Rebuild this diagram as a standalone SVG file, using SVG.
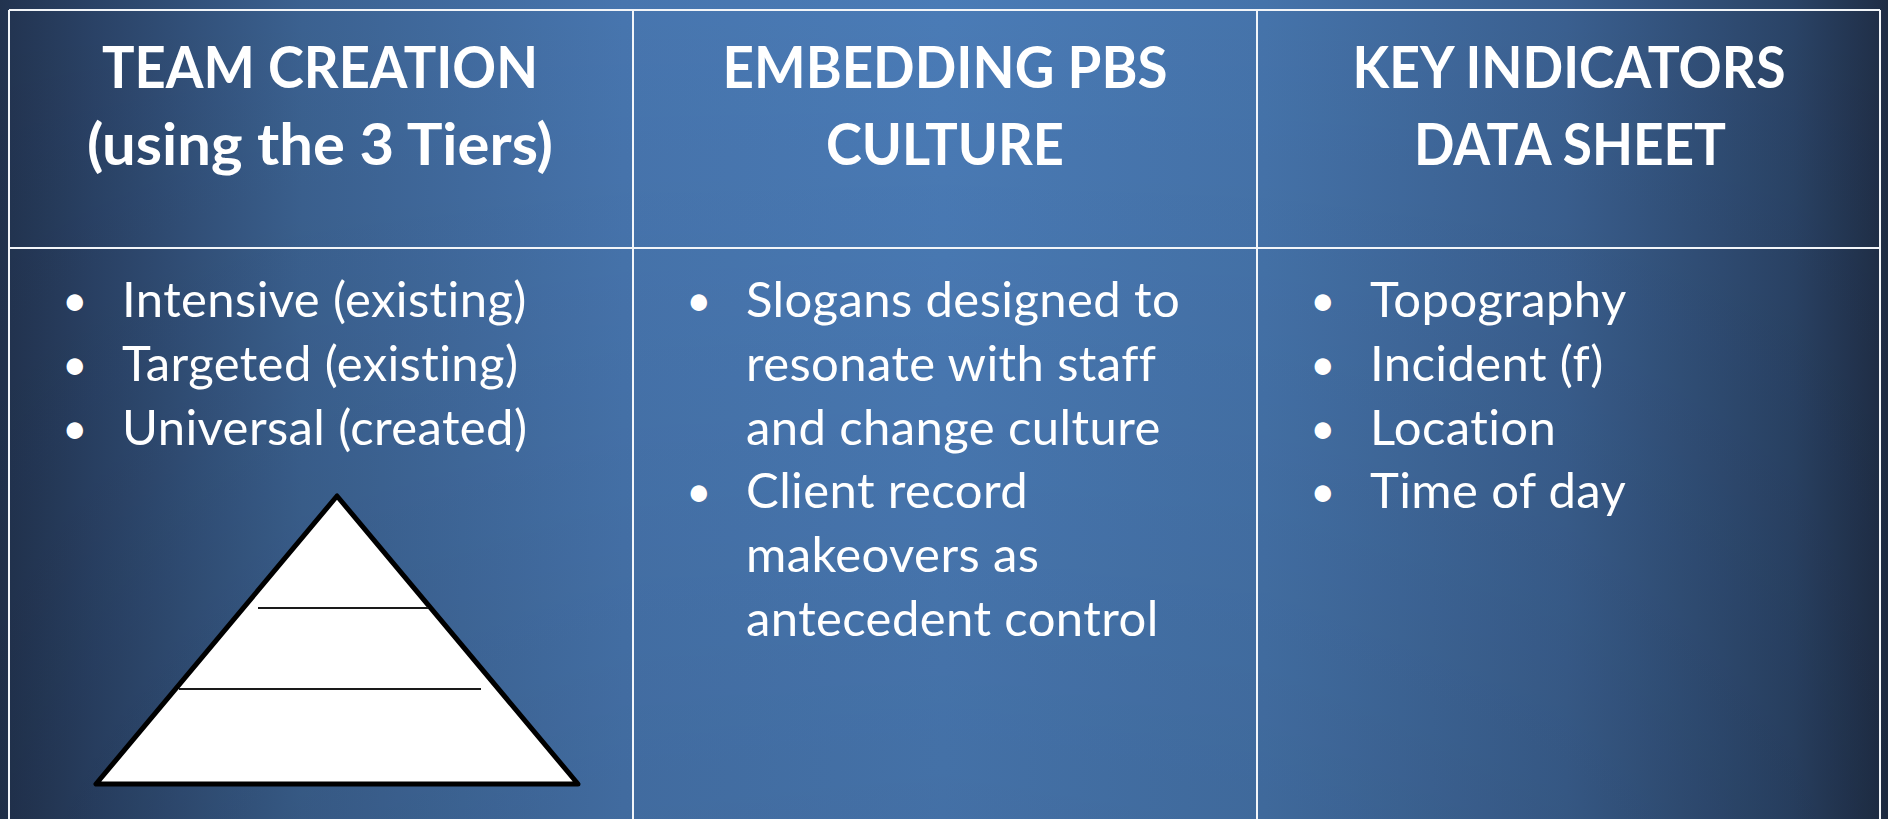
<svg xmlns="http://www.w3.org/2000/svg" width="1888" height="819" viewBox="0 0 1888 819">
  <defs>
    <linearGradient id="bgH" x1="0" y1="0" x2="1888" y2="0" gradientUnits="userSpaceOnUse">
      <stop offset="0" stop-color="#22334f"/>
      <stop offset="0.05" stop-color="#2a4266"/>
      <stop offset="0.16" stop-color="#3b6190"/>
      <stop offset="0.33" stop-color="#4775ae"/>
      <stop offset="0.5" stop-color="#4a7bb6"/>
      <stop offset="0.67" stop-color="#4573aa"/>
      <stop offset="0.83" stop-color="#3a5f8f"/>
      <stop offset="0.95" stop-color="#2a4366"/>
      <stop offset="1" stop-color="#1f2d45"/>
    </linearGradient>
    <linearGradient id="bgV" x1="0" y1="0" x2="0" y2="819" gradientUnits="userSpaceOnUse">
      <stop offset="0" stop-color="#000" stop-opacity="0"/>
      <stop offset="1" stop-color="#000" stop-opacity="0.09"/>
    </linearGradient>
    <style>
      .grid { stroke: #f2f5f9; stroke-width: 2; fill: none; }
      .hdr { font-family: Lato, "Liberation Sans", sans-serif; font-weight: 700; font-size: 57px; fill: #ffffff; text-anchor: middle; }
      .body { font-family: Lato, "Liberation Sans", sans-serif; font-weight: 400; font-size: 49px; letter-spacing: 0.4px; fill: #ffffff; }
      .bul { font-family: Lato, "Liberation Sans", sans-serif; font-size: 44px; fill: #ffffff; }
      .tri { fill: #ffffff; stroke: #000000; stroke-width: 5; stroke-linejoin: round; }
      .tier { stroke: #1a1a1a; stroke-width: 2; }
    </style>
  </defs>

  <rect x="0" y="0" width="1888" height="819" fill="url(#bgH)"/>
  <rect x="0" y="0" width="1888" height="819" fill="url(#bgV)"/>

  <g id="grid">
    <line class="grid" x1="9" y1="10" x2="1880" y2="10"/>
    <line class="grid" x1="9" y1="248" x2="1880" y2="248"/>
    <line class="grid" x1="9" y1="10" x2="9" y2="819"/>
    <line class="grid" x1="633" y1="10" x2="633" y2="819"/>
    <line class="grid" x1="1257" y1="10" x2="1257" y2="819"/>
    <line class="grid" x1="1880" y1="10" x2="1880" y2="819"/>
  </g>

  <g id="connectors"></g>

  <g id="header-team-creation">
    <text class="hdr" x="320" y="88" textLength="436" lengthAdjust="spacingAndGlyphs">TEAM CREATION</text>
    <text class="hdr" x="320" y="165" textLength="466" lengthAdjust="spacingAndGlyphs">(using the 3 Tiers)</text>
  </g>
  <g id="header-embedding">
    <text class="hdr" x="945" y="88" textLength="445" lengthAdjust="spacingAndGlyphs">EMBEDDING PBS</text>
    <text class="hdr" x="945" y="165" textLength="238" lengthAdjust="spacingAndGlyphs">CULTURE</text>
  </g>
  <g id="header-key-indicators">
    <text class="hdr" x="1569" y="88" textLength="433" lengthAdjust="spacingAndGlyphs">KEY INDICATORS</text>
    <text class="hdr" x="1570" y="165" textLength="312" lengthAdjust="spacingAndGlyphs">DATA SHEET</text>
  </g>

  <g id="body-team-creation">
    <text class="bul" x="62" y="316">•</text><text class="body" x="122" y="317">Intensive (existing)</text>
    <text class="bul" x="62" y="380">•</text><text class="body" x="122" y="381">Targeted (existing)</text>
    <text class="bul" x="62" y="444">•</text><text class="body" x="122" y="445">Universal (created)</text>
  </g>

  <g id="pyramid">
    <polygon class="tri" points="337,496 96,784 578,784"/>
    <line class="tier" x1="258" y1="608" x2="428" y2="608"/>
    <line class="tier" x1="179" y1="689" x2="481" y2="689"/>
  </g>

  <g id="body-embedding">
    <text class="bul" x="686" y="316">•</text><text class="body" x="746" y="317">Slogans designed to</text>
    <text class="body" x="746" y="381">resonate with staff</text>
    <text class="body" x="746" y="445">and change culture</text>
    <text class="bul" x="686" y="507">•</text><text class="body" x="746" y="508">Client record</text>
    <text class="body" x="746" y="572">makeovers as</text>
    <text class="body" x="746" y="636">antecedent control</text>
  </g>

  <g id="body-key-indicators">
    <text class="bul" x="1310" y="316">•</text><text class="body" x="1370" y="317">Topography</text>
    <text class="bul" x="1310" y="380">•</text><text class="body" x="1370" y="381">Incident (f)</text>
    <text class="bul" x="1310" y="444">•</text><text class="body" x="1370" y="445">Location</text>
    <text class="bul" x="1310" y="507">•</text><text class="body" x="1370" y="508">Time of day</text>
  </g>
</svg>
